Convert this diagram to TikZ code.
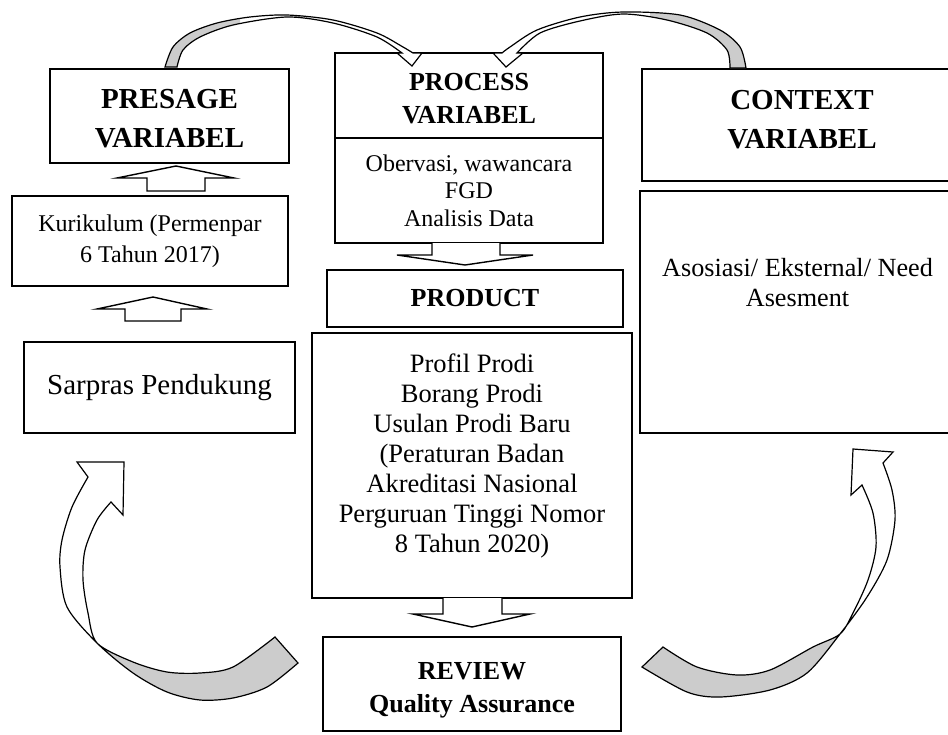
\documentclass[tikz,border=0pt]{standalone}
\usepackage{fontspec}
\setmainfont{Liberation Serif}
\usetikzlibrary{calc}
\begin{document}
\begin{tikzpicture}[x=1pt,y=-1pt,
  box/.style={draw,line width=1.8pt,inner sep=0pt,align=center},
  txt/.style={inner sep=0pt,align=center},
  hbig/.style={font=\fontsize{29}{39}\selectfont\bfseries},
  hmid/.style={font=\fontsize{26}{33}\selectfont\bfseries},
  blk/.style={draw,line width=1.4pt,fill=white,line join=miter},
  curv/.style={draw,line width=1.2pt,line join=miter},
  band/.style={fill=gray!40}
]
\useasboundingbox (0,0) rectangle (948,734);
\clip (0,0) rectangle (948,734);

% ---------- boxes ----------
\node[box,minimum width=239pt,minimum height=94pt] (presage) at (169.5,116) {};
\node[txt,hbig] (presagetext) at (169.5,118.5) {PRESAGE\\VARIABEL};
\node[box,minimum width=276pt,minimum height=90pt,font=\fontsize{24}{31}\selectfont] (kurikulum) at (150,241) {Kurikulum (Permenpar\\6 Tahun 2017)};
\node[box,minimum width=271pt,minimum height=91pt,font=\fontsize{29}{35}\selectfont] (sarpras) at (159.5,387.5) {Sarpras Pendukung};

\node[box,minimum width=268pt,minimum height=85pt] (proctop) at (469,95.5) {};
\node[txt,hmid] (proctoptext) at (469,99) {PROCESS\\VARIABEL};
\node[box,minimum width=268pt,minimum height=105pt,font=\fontsize{24}{27.5}\selectfont] (procbody) at (469,190.5) {Obervasi, wawancara\\FGD\\Analisis Data};

\node[box,hmid,minimum width=296pt,minimum height=57pt] (product) at (475,298.5) {PRODUCT};
\node[box,minimum width=320pt,minimum height=265pt] (prodbody) at (472,465.5) {};
\node[txt,font=\fontsize{26.5}{30}\selectfont] (prodtext) at (472,456) {Profil Prodi\\Borang Prodi\\Usulan Prodi Baru\\(Peraturan Badan\\Akreditasi Nasional\\Perguruan Tinggi Nomor\\8 Tahun 2020)};

\node[box,minimum width=298pt,minimum height=94pt] (review) at (472,684) {};
\node[txt,hmid] (reviewtext) at (472,690) {REVIEW\\Quality Assurance};

\node[box,minimum width=316pt,minimum height=112pt] (context) at (800,125) {};
\node[txt,hbig] (contexttext) at (802,119.5) {CONTEXT\\VARIABEL};
\node[box,minimum width=318pt,minimum height=242pt] (ctxbody) at (799,312) {};
\node[txt,font=\fontsize{26.2}{30}\selectfont] (ctxtext) at (797.5,283) {Asosiasi/ Eksternal/ Need\\Asesment};

% ---------- block arrows ----------
\draw[blk] (147,191) -- (147,178) -- (117,178) -- (176,166) -- (234,178) -- (205,178) -- (205,191) -- cycle;
\draw[blk] (125,321) -- (125,309) -- (97,309) -- (153,297) -- (207,309) -- (181,309) -- (181,321) -- cycle;
\draw[blk] (432,243) -- (432,255) -- (397,255) -- (465,265) -- (533,255) -- (500,255) -- (500,243);
\draw[blk] (443,598) -- (443,614) -- (413,614) -- (472,627) -- (530,614) -- (502,614) -- (502,598);

% ---------- curved arrows ----------
\def\bandTL{plot[smooth] coordinates {(165,67) (173,47) (190,33) (217,23) (250,17) (287,15) (333,20) (377,33) (403,47) (413,53)} -- (422,53) -- (412,66) -- (397,53) -- (402,53) -- plot[smooth] coordinates {(402,53) (377,37) (333,23) (287,17) (233,25) (200,37) (183,50) (177,67)} -- cycle}
\def\bandTR{plot[smooth] coordinates {(746,68) (740,47) (720,30) (680,15) (623,12) (580,17) (537,30) (510,47) (502,53)} -- (493,53) -- (506,67) -- (523,53) -- (517,53) -- plot[smooth] coordinates {(517,53) (540,33) (580,21) (623,14) (667,20) (707,33) (727,50) (730,68)} -- cycle}
\def\bandBL{plot[smooth] coordinates {(88,477) (72,507) (62,540) (60,567) (67,607) (97,643) (133,673) (167,692) (200,700) (233,698) (267,687) (298,663)} -- (275,637) -- plot[smooth] coordinates {(275,637) (233,667) (200,673) (167,672) (133,662) (97,643) (88,613) (83,580) (85,550) (97,520) (111,502)} -- (123,515) -- (124,462) -- (77,462) -- cycle}
\def\bandBR{plot[smooth] coordinates {(642,667) (687,692) (720,697) (770,690) (807,673) (840,634) (867,597) (887,560) (895,520) (892,490) (883,463)} -- (893,452) -- (853,449) -- (851,495) -- (862,485) -- plot[smooth] coordinates {(862,485) (873,513) (876,547) (868,580) (853,613) (840,634) (813,647) (770,670) (737,675) (697,667) (663,647)} -- cycle}

\fill[white] \bandTL; \fill[white] \bandTR; \fill[white] \bandBL; \fill[white] \bandBR;
\begin{scope}\clip (0,0) rectangle (240,100); \fill[band] \bandTL; \end{scope}
\begin{scope}\clip (650,0) rectangle (800,100); \fill[band] \bandTR; \end{scope}
\begin{scope}\clip (97,620) rectangle (320,720); \fill[band] \bandBL; \end{scope}
\begin{scope}\clip (600,600) rectangle (841,720); \fill[band] \bandBR; \end{scope}
\draw[curv] \bandTL; \draw[curv] \bandTR; \draw[curv] \bandBL; \draw[curv] \bandBR;
\end{tikzpicture}
\end{document}
